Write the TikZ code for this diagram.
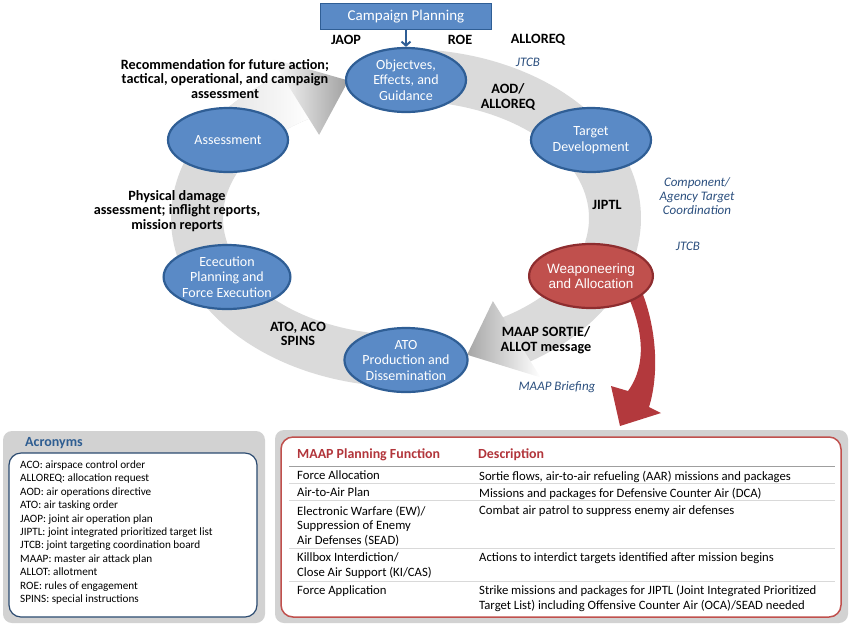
\documentclass[tikz,border=0pt]{standalone}
\usepackage{fontspec}
\setmainfont{Carlito}
\newfontfamily\arialf{Liberation Sans}
\usetikzlibrary{arrows.meta,shapes.geometric}
\definecolor{ellfill}{HTML}{5A8AC6}
\definecolor{ellborder}{HTML}{2F5E95}
\definecolor{redfill}{HTML}{C0504D}
\definecolor{redborder}{HTML}{8E2D2F}
\definecolor{redarrow}{HTML}{B3393D}
\definecolor{bandgray}{HTML}{DADADA}
\definecolor{italblue}{HTML}{2B4F7E}
\definecolor{panelgray}{HTML}{D2D2D2}
\definecolor{acrblue}{HTML}{2E5D91}
\definecolor{acrborder}{HTML}{2B4A70}
\definecolor{tred}{HTML}{B2353B}
\definecolor{tborder}{HTML}{C0504D}
\definecolor{sepgray}{HTML}{D9D9D9}
\begin{document}
\begin{tikzpicture}[x=1pt,y=-1pt,
  bubble/.style={ellipse, draw=ellborder, fill=ellfill, line width=2.2pt,
    minimum width=120pt, minimum height=64pt, inner sep=0pt, text=white,
    font=\fontsize{14}{15.5}\selectfont, align=center},
  redbubble/.style={draw=redborder, fill=redfill,
    font=\arialf\fontsize{13.5}{15}\selectfont},
  lbl/.style={font=\fontsize{14.2}{14.6}\selectfont\bfseries, align=center, text=black, inner sep=0pt},
  ilbl/.style={font=\fontsize{13}{14}\selectfont\itshape, align=center, text=italblue, inner sep=0pt},
  acr/.style={font=\fontsize{11.2}{13.3}\selectfont, anchor=west, inner sep=0pt, text height=8pt, text depth=2.5pt},
  tcell/.style={font=\fontsize{12.7}{14.6}\selectfont, anchor=north west, inner sep=0pt, align=left},
  thead/.style={font=\fontsize{13.9}{15}\selectfont\bfseries, text=tred, anchor=west, inner sep=0pt, text height=9.5pt, text depth=3pt},
  sep/.style={draw=sepgray, line width=0.7pt}
]
\useasboundingbox (0,0) rectangle (850,625);
\def\cx{406}\def\cy{218}\def\rx{209}\def\ry{143}
% ---- gray cycle band, arrow 1 (bottom -> left -> top)
\fill[bandgray] plot[domain=272:121,samples=100,variable=\t] ({\cx+(\rx+26)*cos(\t)},{\cy-(\ry+26)*sin(\t)})
  -- plot[domain=121:272,samples=100,variable=\t] ({\cx+(\rx-26)*cos(\t)},{\cy-(\ry-26)*sin(\t)}) -- cycle;
\shade[left color=bandgray, right color=white] plot[domain=158:121,samples=40,variable=\t] ({\cx+(\rx+26)*cos(\t)},{\cy-(\ry+26)*sin(\t)})
  -- plot[domain=121:158,samples=40,variable=\t] ({\cx+(\rx-26)*cos(\t)},{\cy-(\ry-26)*sin(\t)}) -- cycle;
\shade[left color=white, right color=gray!75] ({\cx+(\rx+45)*cos(122)},{\cy-(\ry+45)*sin(122)})
  -- ({\cx+\rx*cos(106)},{\cy-\ry*sin(106)})
  -- ({\cx+(\rx-45)*cos(122)},{\cy-(\ry-45)*sin(122)}) -- cycle;
% ---- arrow 2 (top -> right -> bottom)
\fill[bandgray] plot[domain=88:-59,samples=100,variable=\t] ({\cx+(\rx+26)*cos(\t)},{\cy-(\ry+26)*sin(\t)})
  -- plot[domain=-59:88,samples=100,variable=\t] ({\cx+(\rx-26)*cos(\t)},{\cy-(\ry-26)*sin(\t)}) -- cycle;
\shade[left color=gray!70, right color=white] ({\cx+(\rx-45)*cos(-58)},{\cy-(\ry-45)*sin(-58)})
  -- ({\cx+\rx*cos(-73)},{\cy-\ry*sin(-73)})
  -- ({\cx+(\rx+45)*cos(-58)},{\cy-(\ry+45)*sin(-58)}) -- cycle;
% ---- red curved arrow
\fill[redarrow] (628,296) .. controls (643,330) and (647,365) .. (628,391) -- (611,386) -- (620,426) -- (661,413) -- (649,407)
  .. controls (659,375) and (657,330) .. (642,292) -- cycle;
% ---- campaign planning
\node[draw=ellborder, fill=ellfill, line width=1.8pt, minimum width=171pt, minimum height=26pt, inner sep=0pt,
  text=white, font=\fontsize{15}{16}\selectfont] (camp) at (406,16.5) {Campaign Planning};
% ---- ellipses
\node[bubble] (obj) at (406,80) {Objectves,\\Effects, and\\Guidance};
\node[bubble] (tgt) at (591,140) {Target\\Development};
\node[bubble, redbubble] (weap) at (591,276) {Weaponeering\\and Allocation};
\node[bubble] (ato) at (406,360) {ATO\\Production and\\Dissemination};
\node[bubble] (exe) at (227,277) {Ececution\\Planning and\\Force Execution};
\node[bubble] (ass) at (228,140) {Assessment};
\draw[ellborder, line width=2.2pt, -{Straight Barb[length=4pt,width=9pt,line width=2pt]}] (camp.south) -- (obj.north);
% ---- bold labels
\node[lbl] (jaop) at (346,40) {JAOP};
\node[lbl] (roe) at (460,40) {ROE};
\node[lbl] (alloreq) at (538,40) {ALLOREQ};
\node[lbl] (aod) at (508,97) {AOD/\\ALLOREQ};
\node[lbl] (jiptl) at (607,205) {JIPTL};
\node[lbl] (rec) at (225,79) {Recommendation for future action;\\tactical, operational, and campaign\\assessment};
\node[lbl] (phys) at (177,211) {Physical damage\\assessment; inflight reports,\\mission reports};
\node[lbl] (atoaco) at (298,334) {ATO, ACO\\SPINS};
\node[lbl] (maap) at (546,340) {MAAP SORTIE/\\ALLOT message};
% ---- italic labels
\node[ilbl] (jtcb1) at (528,62) {JTCB};
\node[ilbl] (comp) at (697,196) {Component/\\Agency Target\\Coordination};
\node[ilbl] (jtcb2) at (688,246) {JTCB};
\node[ilbl] (brief) at (557,387) {MAAP Briefing};
% ---- acronyms panel
\fill[panelgray, rounded corners=9pt] (3,431) rectangle (265,623);
\node[font=\fontsize{14}{15}\selectfont\bfseries, text=acrblue, anchor=west, inner sep=0pt] (acrt) at (25,443) {Acronyms};
\draw[acrborder, fill=white, line width=1.2pt, rounded corners=12pt] (9,453) rectangle (257,617);
\foreach \txt [count=\i from 0] in {{ACO: airspace control order},{ALLOREQ: allocation request},{AOD: air operations directive},
  {ATO: air tasking order},{JAOP: joint air operation plan},{JIPTL: joint integrated prioritized target list},
  {JTCB: joint targeting coordination board},{MAAP: master air attack plan},{ALLOT: allotment},
  {ROE: rules of engagement},{SPINS: special instructions}}
  \node[acr] (ac\i) at (20,{465.5+13.45*\i}) {\txt};
% ---- table panel
\fill[panelgray, rounded corners=9pt] (275,430) rectangle (848,623);
\draw[tborder, fill=white, line width=1.5pt, rounded corners=12pt] (281,437) rectangle (841,617);
\node[thead] (h1) at (297,455) {MAAP Planning Function};
\node[thead] (h2) at (478,455) {Description};
\draw[gray!75, line width=1pt] (289,466) -- (835,466);
\draw[sep] (289,483.5) -- (835,483.5);
\draw[sep] (289,500.5) -- (835,500.5);
\draw[sep] (289,548) -- (835,548);
\draw[sep] (289,581) -- (835,581);
\node[tcell] (r1a) at (297,470.5) {Force Allocation};
\node[tcell] (r1b) at (479,470.5) {Sortie flows, air-to-air refueling (AAR) missions and packages};
\node[tcell] (r2a) at (297,487.5) {Air-to-Air Plan};
\node[tcell] (r2b) at (479,487.5) {Missions and packages for Defensive Counter Air (DCA)};
\node[tcell] (r3a) at (297,505.5) {Electronic Warfare (EW)/\\Suppression of Enemy\\Air Defenses (SEAD)};
\node[tcell] (r3b) at (479,505.5) {Combat air patrol to suppress enemy air defenses};
\node[tcell] (r4a) at (297,552.5) {Killbox Interdiction/\\Close Air Support (KI/CAS)};
\node[tcell] (r4b) at (479,552.5) {Actions to interdict targets identified after mission begins};
\node[tcell] (r5a) at (297,585) {Force Application};
\node[tcell] (r5b) at (479,585) {Strike missions and packages for JIPTL (Joint Integrated Prioritized\\Target List) including Offensive Counter Air (OCA)/SEAD needed};
\end{tikzpicture}
\end{document}
